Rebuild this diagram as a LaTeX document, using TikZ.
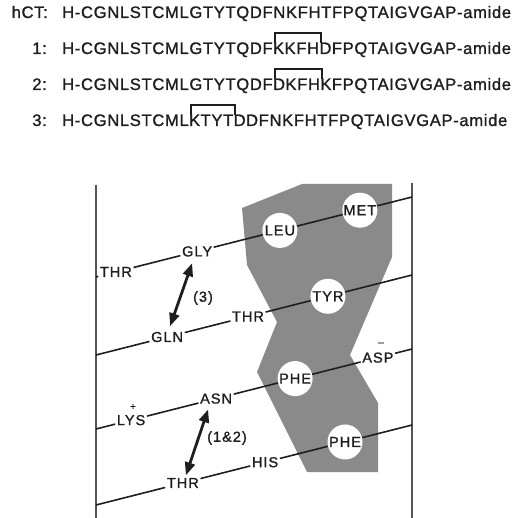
\documentclass[tikz,border=0pt]{standalone}
\usepackage{fontspec}
\setmainfont{Liberation Sans}
\newfontfamily\seqfont[LetterSpace=4,FakeBold=1.2]{Liberation Sans}
\newfontfamily\labfont[LetterSpace=7,FakeBold=1.2]{Liberation Sans}
\usetikzlibrary{calc,arrows.meta}
\definecolor{ink}{HTML}{1E1E1E}
\definecolor{greyface}{HTML}{8A8A8A}
\definecolor{rule}{HTML}{555555}
\begin{document}
\begin{tikzpicture}[x=1pt,y=-1pt,
  seq/.style={inner sep=0pt,text=ink,font=\seqfont\fontsize{16.6pt}{16.6pt}\selectfont},
  brk/.style={line width=1.8pt,draw=ink},
  res/.style={fill=white,inner sep=1.5pt,text=ink,font=\labfont\fontsize{14.5pt}{14.5pt}\selectfont},
  circ/.style={circle,fill=white,inner sep=0pt,minimum size=35pt,text=ink,font=\labfont\fontsize{14.5pt}{14.5pt}\selectfont},
  strand/.style={line width=1.6pt,draw=ink},
  wall/.style={line width=1.4pt,draw=rule},
  dbl/.style={line width=2.8pt,draw=ink,{Triangle[length=13pt,width=10pt]}-{Triangle[length=13pt,width=10pt]}},
  note/.style={inner sep=0pt,text=ink,font=\labfont\fontsize{14.5pt}{14.5pt}\selectfont},
  sign/.style={inner sep=0pt,text=ink,font=\labfont\fontsize{10pt}{10pt}\selectfont}]
\useasboundingbox (0,0) rectangle (512,518);
% ---- sequences ----
\node[seq,anchor=base east] (l0) at (48,18) {hCT:};
\node[seq,anchor=base west] (s0) at (62,18) {H-CGNLSTCMLGTYTQDFNKFHTFPQTAIGVGAP-amide};

\node[seq,anchor=base east] (l1) at (47,54) {1:};
\node[seq,anchor=base west] (r1a) at (62,54) {H-CGNLSTCMLGTYTQDF};
\node[seq,anchor=base west] (r1b) at (r1a.base east) {K};
\node[seq,anchor=base west] (r1c) at (r1b.base east) {KFH};
\node[seq,anchor=base west] (r1d) at (r1c.base east) {D};
\node[seq,anchor=base west] (r1e) at (r1d.base east) {FPQTAIGVGAP-amide};
\draw[brk] ([xshift=1.9pt,yshift=-1pt]r1b.north west) -- ++(0,-10) -| ([xshift=1.9pt,yshift=-1pt]r1d.north west);

\node[seq,anchor=base east] (l2) at (47,90) {2:};
\node[seq,anchor=base west] (r2a) at (62,90) {H-CGNLSTCMLGTYTQDF};
\node[seq,anchor=base west] (r2b) at (r2a.base east) {D};
\node[seq,anchor=base west] (r2c) at (r2b.base east) {KFH};
\node[seq,anchor=base west] (r2d) at (r2c.base east) {K};
\node[seq,anchor=base west] (r2e) at (r2d.base east) {FPQTAIGVGAP-amide};
\draw[brk] ([xshift=1.9pt,yshift=-1pt]r2b.north west) -- ++(0,-10) -| ([xshift=1.9pt,yshift=-1pt]r2d.north west);

\node[seq,anchor=base east] (l3) at (47,126) {3:};
\node[seq,anchor=base west] (r3a) at (62,126) {H-CGNLSTCML};
\node[seq,anchor=base west] (r3b) at (r3a.base east) {K};
\node[seq,anchor=base west] (r3c) at (r3b.base east) {TYT};
\node[seq,anchor=base west] (r3d) at (r3c.base east) {D};
\node[seq,anchor=base west] (r3e) at (r3d.base east) {DFNKFHTFPQTAIGVGAP-amide};
\draw[brk] ([xshift=1.9pt,yshift=-1pt]r3b.north west) -- ++(0,-10) -| ([xshift=1.9pt,yshift=-1pt]r3d.north west);

% ---- hydrophobic face ----
\fill[greyface] (242,208) -- (302,184) -- (392,184) -- (392,257) -- (350,355) -- (378,403)
  -- (378,472) -- (307,472) -- (257,372) -- (277,322) -- (247,265) -- cycle;

% ---- walls ----
\coordinate (WLt) at (96,185); \coordinate (WLb) at (96,518);
\coordinate (WRt) at (412,183); \coordinate (WRb) at (412,518);
\draw[wall] (WLt) -- (WLb);
\draw[wall] (WRt) -- (WRb);

% ---- strand ends ----
\coordinate (L1) at (96,277); \coordinate (R1) at (412,197);
\coordinate (L2) at (96,355); \coordinate (R2) at (412,275);
\coordinate (L3) at (96,429); \coordinate (R3) at (412,349);
\coordinate (L4) at (96,505); \coordinate (R4) at (412,425);

% ---- residues ----
\node[res]  (thrA) at ($(L1)!0.063!(R1)$) {THR};
\node[res]  (gly)  at ($(L1)!0.320!(R1)$) {GLY};
\node[circ] (leu)  at ($(L1)!0.582!(R1)$) {LEU};
\node[circ] (met)  at ($(L1)!0.835!(R1)$) {MET};

\node[res]  (gln)  at ($(L2)!0.225!(R2)$) {GLN};
\node[res]  (thrB) at ($(L2)!0.481!(R2)$) {THR};
\node[circ] (tyr)  at ($(L2)!0.734!(R2)$) {TYR};

\node[res]  (lys)  at ($(L3)!0.111!(R3)$) {LYS};
\node[res]  (asn)  at ($(L3)!0.380!(R3)$) {ASN};
\node[circ] (pheA) at ($(L3)!0.630!(R3)$) {PHE};
\node[res]  (asp)  at ($(L3)!0.892!(R3)$) {ASP};

\node[res]  (thrC) at ($(L4)!0.275!(R4)$) {THR};
\node[res]  (his)  at ($(L4)!0.535!(R4)$) {HIS};
\node[circ] (pheB) at ($(L4)!0.788!(R4)$) {PHE};

\node[sign] (plus)  at (133,407) {+};
\node[sign] (minus) at (381,344) {–};

% ---- strands ----
\draw[strand] (L1) -- (thrA) -- (gly) -- (leu) -- (met) -- (R1);
\draw[strand] (L2) -- (gln) -- (thrB) -- (tyr) -- (R2);
\draw[strand] (L3) -- (lys) -- (asn) -- (pheA) -- (asp) -- (R3);
\draw[strand] (L4) -- (thrC) -- (his) -- (pheB) -- (R4);

% ---- cross-links ----
\draw[dbl] ([xshift=-5pt,yshift=-5pt]gly.south) -- ([xshift=3pt,yshift=4pt]gln.north);
\node[note] (n3) at (203,298) {(3)};
\draw[dbl] ([xshift=-8pt,yshift=-4pt]asn.south) -- ([xshift=3pt,yshift=1pt]thrC.north);
\node[note] (n12) at (227,438) {(1\&2)};
\end{tikzpicture}
\end{document}
